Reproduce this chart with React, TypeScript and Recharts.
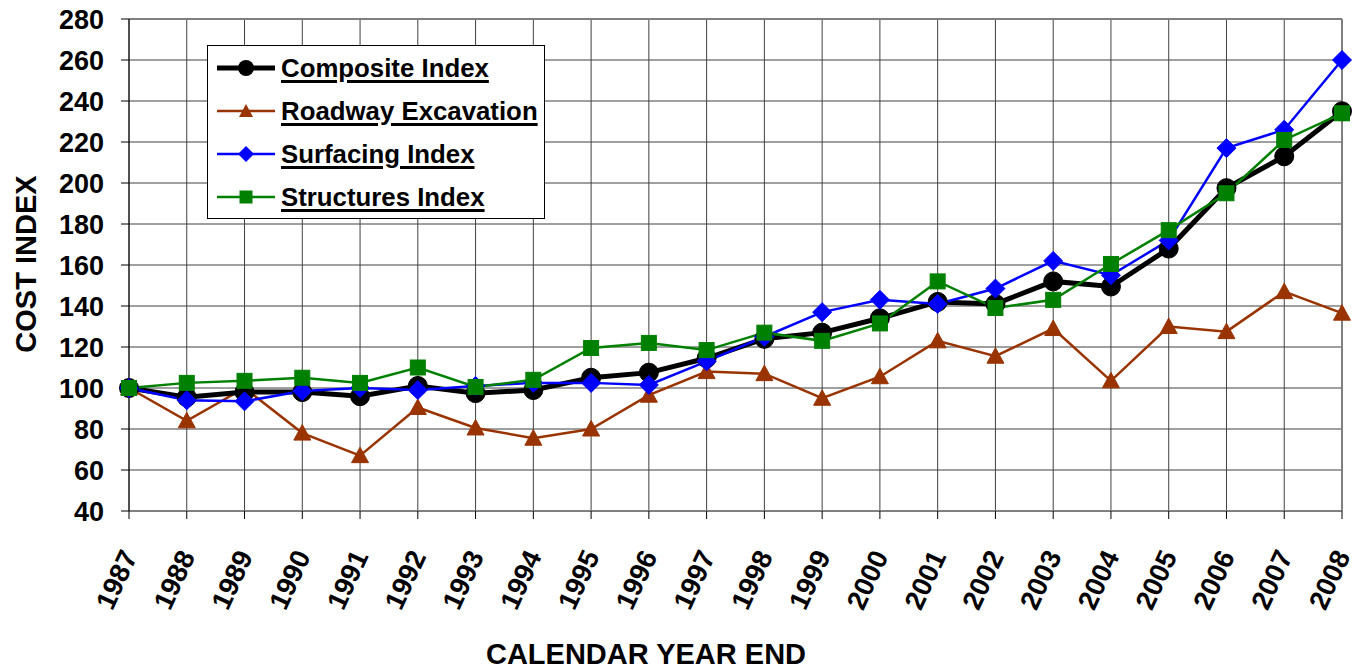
import React from 'react';
import { LineChart, Line, XAxis, YAxis, CartesianGrid, ReferenceLine, Legend } from 'recharts';

const years = ['1987','1988','1989','1990','1991','1992','1993','1994','1995','1996','1997','1998','1999','2000','2001','2002','2003','2004','2005','2006','2007','2008'];
const composite = [100, 95.5, 98, 98, 96, 101, 97.5, 99, 105, 107.5, 114.5, 124, 127, 134, 142, 141, 152, 149.5, 168, 197.5, 213, 235];
const roadway = [100, 84, 100, 78, 67, 90.5, 80.5, 75.5, 80, 96.5, 108, 107, 95, 105.5, 123, 115.5, 129, 103.5, 130, 127.5, 147, 136.5];
const surfacing = [100, 94, 93.5, 98.5, 100, 99, 101, 102.5, 102.5, 101.5, 113, 125, 137, 143, 141, 148.5, 162, 155, 172, 217, 226, 260];
const structures = [100, 102.5, 103.5, 105, 102.5, 110, 100.5, 104, 119.5, 122, 118.5, 127, 123, 131.5, 152, 139, 143, 160.5, 177, 195, 221, 234];
const yTicks = [40, 60, 80, 100, 120, 140, 160, 180, 200, 220, 240, 260, 280];

const data = years.map((year, i) => ({
  year,
  composite: composite[i],
  roadway: roadway[i],
  surfacing: surfacing[i],
  structures: structures[i],
}));

const FONT = '"Liberation Sans", Arial, Helvetica, sans-serif';
const BLACK = '#000000';
const BROWN = '#993300';
const BLUE = '#0000FF';
const GREEN = '#008000';

const triangleDot = (props: any) => {
  const { cx, cy, index } = props;
  if (cx == null || cy == null) return <g key={`t${index}`} />;
  return (
    <polygon key={`t${index}`} points={`${cx},${cy - 8.5} ${cx - 8.5},${cy + 7} ${cx + 8.5},${cy + 7}`} fill={BROWN} stroke={BROWN} strokeWidth={1} />
  );
};
const diamondDot = (props: any) => {
  const { cx, cy, index } = props;
  if (cx == null || cy == null) return <g key={`d${index}`} />;
  const h = 9.5;
  return (
    <polygon key={`d${index}`} points={`${cx},${cy - h} ${cx + h},${cy} ${cx},${cy + h} ${cx - h},${cy}`} fill={BLUE} stroke={BLUE} strokeWidth={1} />
  );
};
const squareDot = (props: any) => {
  const { cx, cy, index } = props;
  if (cx == null || cy == null) return <g key={`s${index}`} />;
  const h = 7.5;
  return <rect key={`s${index}`} x={cx - h} y={cy - h} width={2 * h} height={2 * h} fill={GREEN} stroke={GREEN} strokeWidth={1} />;
};

const XTick = (props: any) => {
  const { x, y, payload } = props;
  const ax = x + 9;
  const ay = y + 37;
  return (
    <text x={ax} y={ay} transform={`rotate(-65, ${ax}, ${ay})`} textAnchor="end" fontFamily={FONT} fontWeight="bold" fontSize={27.5} fill="#000">
      {payload.value}
    </text>
  );
};

const YTitle = () => (
  <text x={36} y={264} transform="rotate(-90, 36, 264)" textAnchor="middle" fontFamily={FONT} fontWeight="bold" fontSize={29} fill="#000">
    COST INDEX
  </text>
);

const XTitle = () => (
  <text x={646} y={664} textAnchor="middle" fontFamily={FONT} fontWeight="bold" fontSize={29} fill="#000">
    CALENDAR YEAR END
  </text>
);

const legendItems = [
  { name: 'Composite Index', color: BLACK, width: 5, marker: 'circle' },
  { name: 'Roadway Excavation', color: BROWN, width: 2.5, marker: 'triangle' },
  { name: 'Surfacing Index', color: BLUE, width: 2.5, marker: 'diamond' },
  { name: 'Structures Index', color: GREEN, width: 2.5, marker: 'square' },
];

const LegendIcon = ({ color, width, marker }: any) => {
  const cx = 29;
  const cy = 12;
  let m: any = null;
  if (marker === 'circle') m = <circle cx={cx} cy={cy} r={8} fill={color} />;
  if (marker === 'triangle') m = <polygon points={`${cx},${cy - 7} ${cx - 7},${cy + 6} ${cx + 7},${cy + 6}`} fill={color} />;
  if (marker === 'diamond') m = <polygon points={`${cx},${cy - 8} ${cx + 8},${cy} ${cx},${cy + 8} ${cx - 8},${cy}`} fill={color} />;
  if (marker === 'square') m = <rect x={cx - 6.5} y={cy - 6.5} width={13} height={13} fill={color} />;
  return (
    <svg width={58} height={24} style={{ display: 'block', flex: '0 0 auto' }}>
      <line x1={0} y1={cy} x2={58} y2={cy} stroke={color} strokeWidth={width} />
      {m}
    </svg>
  );
};

const LegendBox = () => (
  <div
    style={{
      boxSizing: 'border-box',
      width: 338,
      height: 174,
      border: '1px solid #000',
      background: '#fff',
      paddingLeft: 9,
      paddingTop: 0,
    }}
  >
    {legendItems.map((it) => (
      <div key={it.name} style={{ display: 'flex', alignItems: 'center', height: 43 }}>
        <LegendIcon color={it.color} width={it.width} marker={it.marker} />
        <span
          style={{
            marginLeft: 6,
            fontFamily: FONT,
            fontWeight: 'bold',
            fontSize: 25.8,
            color: '#000',
            textDecoration: 'underline',
            textDecorationThickness: '3px',
            textUnderlineOffset: '3px',
            whiteSpace: 'nowrap',
            lineHeight: '30px',
          }}
        >
          {it.name}
        </span>
      </div>
    ))}
  </div>
);

export default function App() {
  return (
    <div style={{ position: 'absolute', left: 0, top: 0, width: 1355, height: 671, background: '#fff' }}>
      <LineChart width={1355} height={671} data={data} margin={{ top: 19, right: 13, bottom: 0, left: 0 }}>
        <CartesianGrid stroke="#404040" strokeWidth={1} />
        <XAxis
          dataKey="year"
          scale="point"
          padding={{ left: 0, right: 0 }}
          height={160}
          tickSize={8}
          tickMargin={0}
          interval={0}
          tick={<XTick />}
          tickLine={{ stroke: '#000', strokeWidth: 1 }}
          axisLine={{ stroke: '#808080', strokeWidth: 2 }}
          label={XTitle}
        />
        <YAxis
          type="number"
          domain={[40, 280]}
          ticks={yTicks}
          interval={0}
          width={129}
          tickSize={8}
          tickMargin={17}
          tick={{ fontFamily: FONT, fontWeight: 'bold', fontSize: 27, fill: '#000' }}
          tickLine={{ stroke: '#000', strokeWidth: 1 }}
          axisLine={{ stroke: '#000', strokeWidth: 1 }}
          label={YTitle}
        />
        <ReferenceLine y={280} stroke="#808080" strokeWidth={2} />
        <ReferenceLine x="2008" stroke="#808080" strokeWidth={2} />
        <Legend layout="vertical" align="center" verticalAlign="middle" wrapperStyle={{ left: 207, top: 45, width: 338, height: 174 }} content={() => <LegendBox />} />
        <Line dataKey="roadway" stroke={BROWN} strokeWidth={2.5} dot={triangleDot} activeDot={false} isAnimationActive={false} />
        <Line dataKey="composite" stroke={BLACK} strokeWidth={5} dot={{ r: 9.5, fill: BLACK, stroke: BLACK, strokeWidth: 1 }} activeDot={false} isAnimationActive={false} />
        <Line dataKey="surfacing" stroke={BLUE} strokeWidth={2.5} dot={diamondDot} activeDot={false} isAnimationActive={false} />
        <Line dataKey="structures" stroke={GREEN} strokeWidth={2.5} dot={squareDot} activeDot={false} isAnimationActive={false} />
      </LineChart>
    </div>
  );
}
